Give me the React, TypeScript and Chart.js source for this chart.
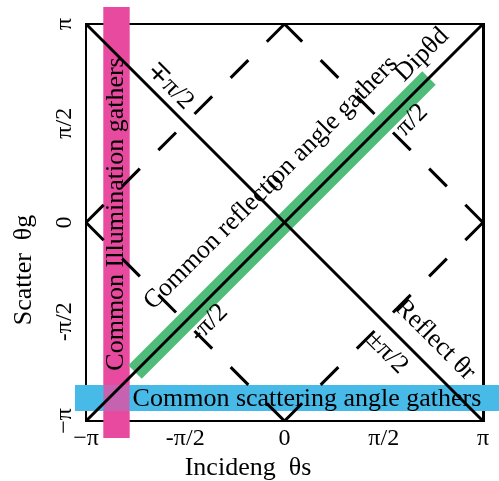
import React, { useEffect, useRef } from 'react';
import { Chart, registerables } from 'chart.js';

Chart.register(...registerables);

const PI = Math.PI;

// Tick positions and labels
const tickValues = [-PI, -PI / 2, 0, PI / 2, PI];
const xTickLabels = ['−π', '-π/2', '0', 'π/2', 'π'];
const yTickLabels = ['−π', '-π/2', '0', 'π/2', 'π'];

// Lines (data coordinates, radians)
const diagonal = [{ x: -PI, y: -PI }, { x: PI, y: PI }];
const antiDiagonal = [{ x: -PI, y: PI }, { x: PI, y: -PI }];
const diamond = [
  { x: 0, y: PI },
  { x: PI, y: 0 },
  { x: 0, y: -PI },
  { x: -PI, y: 0 },
  { x: 0, y: PI },
];

// Highlighted gather bands
const reflectionBand = [{ x: -2.366, y: -2.366 }, { x: 2.287, y: 2.287 }];
const illuminationBand = [{ x: -2.659, y: 3.411 }, { x: -2.659, y: -3.411 }];
const scatteringBand = [{ x: -3.316, y: -2.778 }, { x: 3.395, y: -2.778 }];

// Text labels
const noteTexts = [
  'Common reflection angle gathers',
  'Dipθd',
  'π/2',
  '0',
  '-π/2',
  '∓π/2',
  '±π/2',
  'Reflect θr',
  'Common Illumination gathers',
  'Common scattering angle gathers',
  'Incideng  θs',
  'Scatter  θg',
];
const noteX = [-0.214, 2.176, 2.018, -0.135, -1.195, -1.812, 1.622, 2.382, -2.667, 0.356, -0.578, -4.123];
const noteY = [0.625, 2.651, 1.622, 0.609, -1.591, 2.16, -2.065, -1.86, 0.135, -2.79, -3.886, -0.752];
const noteAngle = [-45, -45, -45, -45, -45, 45, 45, 45, -90, 0, 0, -90];

const FONT = '"Liberation Serif", "Times New Roman", serif';
const PINK = 'rgb(232,74,160)';
const PINK_OVER = 'rgba(232,74,160,0.78)';
const BLUE = 'rgb(72,186,232)';
const GREEN = 'rgb(80,188,122)';

const notesPlugin = {
  id: 'notes',
  afterDatasetsDraw(chart: any) {
    const { ctx } = chart;
    const xs = chart.scales.x;
    const ys = chart.scales.y;
    ctx.save();
    ctx.fillStyle = '#000';
    ctx.textAlign = 'center';
    ctx.textBaseline = 'middle';
    ctx.font = `26px ${FONT}`;
    noteTexts.forEach((t, i) => {
      ctx.save();
      ctx.translate(xs.getPixelForValue(noteX[i]), ys.getPixelForValue(noteY[i]));
      ctx.rotate((noteAngle[i] * Math.PI) / 180);
      ctx.fillText(t, 0, 0);
      ctx.restore();
    });
    ctx.restore();
  },
};

export default function App() {
  const ref = useRef<HTMLCanvasElement>(null);

  useEffect(() => {
    const line = (data: any[], color: string, width: number, extra: any = {}) => ({
      data,
      showLine: true,
      borderColor: color,
      backgroundColor: color,
      borderWidth: width,
      pointRadius: 0,
      borderCapStyle: 'butt',
      fill: false,
      tension: 0,
      xAxisID: 'x',
      yAxisID: 'y',
      ...extra,
    });

    const diamondEdges = diamond.slice(0, -1).map((p, i) =>
      line([p, diamond[i + 1]], '#000', 3, { borderDash: [25, 26.14] })
    );

    const tickFont = { family: FONT, size: 24 };

    const chart = new Chart(ref.current!, {
      type: 'scatter',
      data: {
        datasets: [
          line(diagonal, '#000', 3),
          line(antiDiagonal, '#000', 3),
          ...diamondEdges,
          line(reflectionBand, GREEN, 19),
          line(illuminationBand, PINK_OVER, 26, { clip: false }),
          line(scatteringBand, BLUE, 26, { clip: false }),
          line(illuminationBand, PINK, 26, { clip: false }),
        ] as any,
      },
      options: {
        responsive: false,
        animation: false,
        devicePixelRatio: 1,
        events: [],
        layout: { padding: 0 },
        plugins: { legend: { display: false }, tooltip: { enabled: false } },
        scales: {
          x: {
            type: 'linear',
            position: 'bottom',
            min: -PI,
            max: PI,
            afterBuildTicks: (s: any) => {
              s.ticks = tickValues.map((v) => ({ value: v }));
            },
            afterFit: (s: any) => {
              s.height = 60;
            },
            grid: { display: false, drawTicks: false },
            border: { display: true, color: '#000', width: 2 },
            ticks: {
              autoSkip: false,
              minRotation: 0,
              maxRotation: 0,
              padding: 3,
              color: '#000',
              font: tickFont,
              callback: (_v: any, i: number) => xTickLabels[i],
            },
          },
          y: {
            type: 'linear',
            position: 'left',
            min: -PI,
            max: PI,
            afterBuildTicks: (s: any) => {
              s.ticks = tickValues.map((v) => ({ value: v }));
            },
            afterFit: (s: any) => {
              s.width = 86;
            },
            grid: { display: false, drawTicks: false },
            border: { display: true, color: '#000', width: 2 },
            ticks: {
              autoSkip: false,
              minRotation: 90,
              maxRotation: 90,
              crossAlign: 'center',
              padding: 2,
              color: '#000',
              font: tickFont,
              callback: (_v: any, i: number) => yTickLabels[i],
            },
          },
          x2: {
            type: 'linear',
            position: 'top',
            min: -PI,
            max: PI,
            afterFit: (s: any) => {
              s.height = 24;
            },
            grid: { display: false, drawTicks: false },
            border: { display: true, color: '#000', width: 2 },
            ticks: { display: false },
          },
          y2: {
            type: 'linear',
            position: 'right',
            min: -PI,
            max: PI,
            afterFit: (s: any) => {
              s.width = 16;
            },
            grid: { display: false, drawTicks: false },
            border: { display: true, color: '#000', width: 3 },
            ticks: { display: false },
          },
        },
      } as any,
      plugins: [notesPlugin],
    });

    return () => chart.destroy();
  }, []);

  return (
    <div style={{ position: 'fixed', left: 0, top: 0, width: 499, height: 481, background: '#fff' }}>
      <canvas ref={ref} width={499} height={481} style={{ display: 'block', width: 499, height: 481 }} />
    </div>
  );
}
